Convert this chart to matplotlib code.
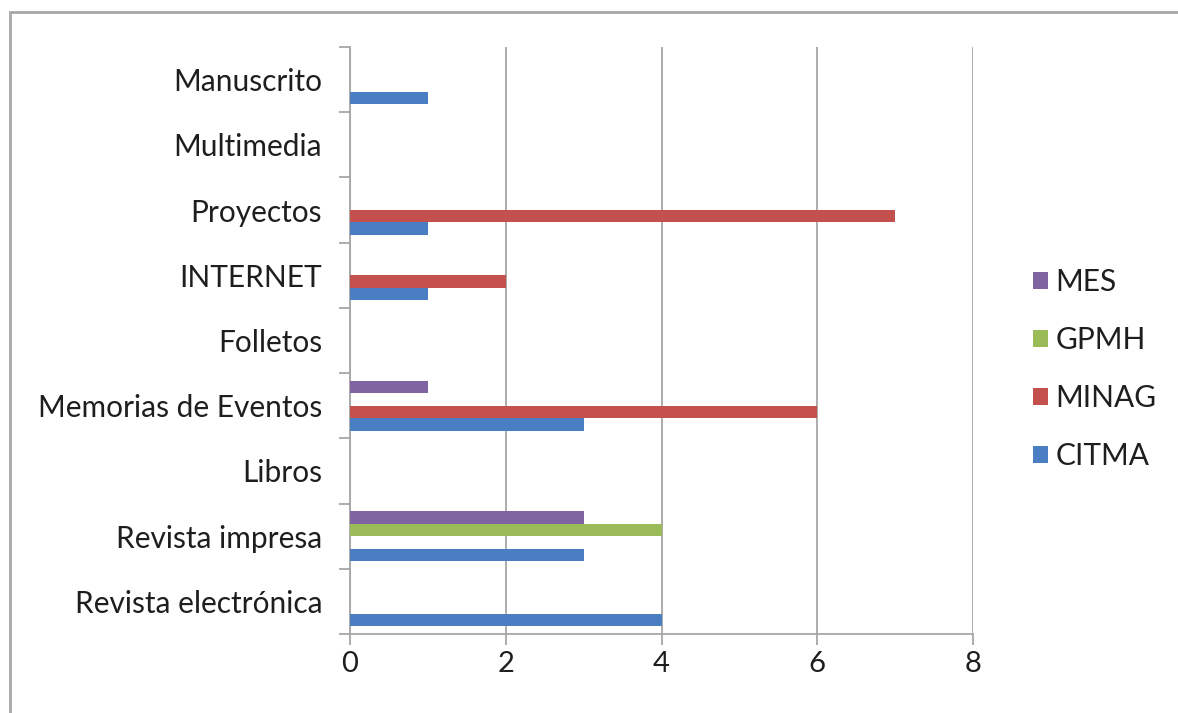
import numpy as np
import matplotlib
matplotlib.use("Agg")
import matplotlib.pyplot as plt
from matplotlib.patches import Rectangle

# Categorías (de abajo hacia arriba) y valores por institución
categorias = ["Revista electrónica", "Revista impresa", "Libros", "Memorias de Eventos",
              "Folletos", "INTERNET", "Proyectos", "Multimedia", "Manuscrito"]
citma = [4, 3, 0, 3, 0, 1, 1, 0, 1]
minag = [0, 0, 0, 6, 0, 2, 7, 0, 0]
gpmh = [0, 4, 0, 0, 0, 0, 0, 0, 0]
mes = [0, 3, 0, 1, 0, 0, 0, 0, 0]

series = [("CITMA", citma, "#4A7EC2"),
          ("MINAG", minag, "#C4504D"),
          ("GPMH", gpmh, "#9BBB59"),
          ("MES", mes, "#8064A2")]

plt.rcParams['font.family'] = ['Lato', 'DejaVu Sans']
gris = "#A6A6A6"
texto = "#1E1E1E"

fig = plt.figure(figsize=(11.78, 7.13), dpi=100)
# marco gris del gráfico (solo se ven los bordes izquierdo y superior)
fig.patches.append(Rectangle((10 / 1178, -0.1), 1.2, 1.1 - 12 / 713,
                             transform=fig.transFigure, fill=False,
                             edgecolor="#A8A8A8", linewidth=2))

ax = fig.add_axes([350 / 1178, 1 - 634 / 713, 623 / 1178, 587 / 713])

y = np.arange(len(categorias))
h = 0.19
for i, (nombre, valores, color) in enumerate(series):
    ax.barh(y + (i - 1.5) * h, valores, height=h, color=color,
            linewidth=0, label=nombre, zorder=3)

ax.set_xlim(0, 8)
ax.set_ylim(-0.5, len(categorias) - 0.5)
ax.set_xticks([0, 2, 4, 6, 8])
ax.set_yticks(y)
ax.set_yticklabels(categorias)
ax.set_yticks(np.arange(len(categorias) + 1) - 0.5, minor=True)
ax.tick_params(axis="y", which="major", length=0, pad=20, labelsize=21.5, labelcolor=texto)
ax.tick_params(axis="y", which="minor", length=8, color=gris, width=1.3)
ax.tick_params(axis="x", length=8, color=gris, width=1.3, pad=4, labelsize=21, labelcolor=texto)

ax.grid(axis="x", color=gris, linewidth=1.3, zorder=0)
for s in ["top", "right"]:
    ax.spines[s].set_visible(False)
for s in ["left", "bottom"]:
    ax.spines[s].set_color(gris)
    ax.spines[s].set_linewidth(1.3)

handles, labels = ax.get_legend_handles_labels()
leg = fig.legend(handles[::-1], labels[::-1], loc="center left",
                 bbox_to_anchor=(1006 / 1178, 1 - 369 / 713), frameon=False,
                 fontsize=21.5, handlelength=0.5, handleheight=0.5, handletextpad=0.25,
                 labelspacing=1.0)
for t in leg.get_texts():
    t.set_color(texto)

fig.savefig("out.png", dpi=100, facecolor="white")
